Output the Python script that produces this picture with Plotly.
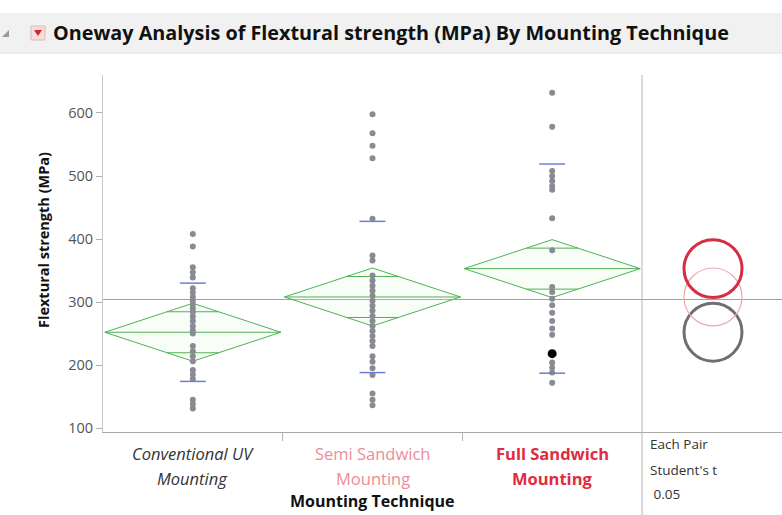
import math
import plotly.graph_objects as go

# ---------------- data ----------------
categories = ["Conventional UV Mounting", "Semi Sandwich Mounting", "Full Sandwich Mounting"]
cat_line1 = ["Conventional UV", "Semi Sandwich", "Full Sandwich"]
cat_line2 = ["Mounting", "Mounting", "Mounting"]

conventional = [408, 388, 355, 347, 339, 322, 315, 308, 302, 296, 290, 284, 277, 270,
                262, 255, 250, 230, 222, 214, 206, 192, 185, 178, 145, 138, 131]
semi = [598, 568, 548, 528, 432, 374, 366, 342, 334, 326, 318, 310, 302, 294, 286,
        278, 270, 262, 254, 246, 238, 230, 214, 205, 195, 184, 155, 145, 136]
full = [632, 578, 508, 500, 492, 484, 478, 433, 382, 324, 316, 305, 295, 283, 270,
        258, 248, 204, 196, 188, 172]
full_selected = [218]

group_means = [252, 308, 353]
group_sds = [78, 120, 166]
ci_half = [46, 46, 46]
circle_radius = [46, 46, 46]
grand_mean = 304
y_ticks = [100, 200, 300, 400, 500, 600]

# ---------------- layout geometry ----------------
W, H = 782, 515
L, R, T, B = 103, 0, 75, 83
PW = W - L - R
PH = H - T - B
SPLIT = 539 / PW
Y_RANGE = [93.7, 660.3]
PX_PER_UNIT = PH / (Y_RANGE[1] - Y_RANGE[0])
X2_RANGE = [0, (PW * (1 - SPLIT)) / PX_PER_UNIT]
CIRCLE_X = 71 / PX_PER_UNIT


def px(xp):
    return (xp - L) / PW


def py(yp):
    return (H - B - yp) / PH


FONT = "Open Sans"
GREEN = "#4fb253"
BLUE = "#6d7fd3"
DOT = "#8a8a92"

fig = go.Figure()
groups = [conventional, semi, full]
hw = 0.49
ow = hw * (1 - 1 / math.sqrt(2))
sdw = 0.072

for i, vals in enumerate(groups):
    m, c = group_means[i], ci_half[i]
    # diamond
    fig.add_trace(go.Scatter(
        x=[i - hw, i, i + hw, i, i - hw], y=[m, m + c, m, m - c, m],
        mode="lines", fill="toself", fillcolor="rgba(215,245,215,0.18)",
        line=dict(color=GREEN, width=1), hoverinfo="skip", showlegend=False))
    fig.add_trace(go.Scatter(
        x=[i - hw, i + hw], y=[m, m], mode="lines",
        line=dict(color=GREEN, width=1), hoverinfo="skip", showlegend=False))
    for s in (1, -1):
        yy = m + s * c / math.sqrt(2)
        fig.add_trace(go.Scatter(
            x=[i - ow, i + ow], y=[yy, yy], mode="lines",
            line=dict(color=GREEN, width=1), hoverinfo="skip", showlegend=False))

for i, vals in enumerate(groups):
    fig.add_trace(go.Scatter(
        x=[i] * len(vals), y=vals, mode="markers",
        marker=dict(color=DOT, size=6), name=categories[i], showlegend=False))

fig.add_trace(go.Scatter(
    x=[2] * len(full_selected), y=full_selected, mode="markers",
    marker=dict(color="black", size=9), showlegend=False))

for i in range(3):
    m, sd = group_means[i], group_sds[i]
    for yy in (m + sd, m - sd):
        fig.add_trace(go.Scatter(
            x=[i - sdw, i + sdw], y=[yy, yy], mode="lines",
            line=dict(color=BLUE, width=1.5), hoverinfo="skip", showlegend=False))

# dummy trace so xaxis2 exists
fig.add_trace(go.Scatter(x=[X2_RANGE[0]], y=[Y_RANGE[0]], xaxis="x2", yaxis="y",
                         mode="markers", marker=dict(opacity=0), hoverinfo="skip",
                         showlegend=False))

shapes = []
# title bar
shapes.append(dict(type="rect", xref="paper", yref="paper", x0=px(0), x1=px(W),
                   y0=py(53), y1=py(13), fillcolor="#f1f1f1", line=dict(width=0),
                   layer="below"))
shapes.append(dict(type="line", xref="paper", yref="paper", x0=px(0), x1=px(W),
                   y0=py(53), y1=py(53), line=dict(color="#e2e2e2", width=1)))
# disclosure + red triangle icons
shapes.append(dict(type="path", xref="paper", yref="paper",
                   path=f"M {px(2)},{py(37)} L {px(9)},{py(37)} L {px(9)},{py(30)} Z",
                   fillcolor="#9a9a9a", line=dict(width=0)))
shapes.append(dict(type="rect", xref="paper", yref="paper", x0=px(31), x1=px(45),
                   y0=py(40), y1=py(26), fillcolor="#f7dede",
                   line=dict(color="#e7b4b4", width=1)))
shapes.append(dict(type="path", xref="paper", yref="paper",
                   path=f"M {px(34)},{py(30)} L {px(42)},{py(30)} L {px(38)},{py(36)} Z",
                   fillcolor="#d8242c", line=dict(width=0)))
# grand mean line
shapes.append(dict(type="line", xref="paper", yref="y", x0=0, x1=1,
                   y0=grand_mean, y1=grand_mean, line=dict(color="#a0a0a0", width=1),
                   layer="below"))
# separator between main plot and comparison circles
shapes.append(dict(type="line", xref="paper", yref="paper", x0=SPLIT, x1=SPLIT,
                   y0=py(H), y1=1, line=dict(color="#b5b5b5", width=1)))
# comparison circles
circle_styles = [("#6f6f6f", 3), ("#f2a5ad", 1.2), ("#d62d43", 3)]
for i in range(3):
    col, wdt = circle_styles[i]
    r = circle_radius[i]
    shapes.append(dict(type="circle", xref="x2", yref="y",
                       x0=CIRCLE_X - r, x1=CIRCLE_X + r,
                       y0=group_means[i] - r, y1=group_means[i] + r,
                       line=dict(color=col, width=wdt)))

annotations = []
annotations.append(dict(text="<b>Oneway Analysis of Flextural strength (MPa) By Mounting Technique</b>",
                        xref="paper", yref="paper", x=px(51), y=py(33),
                        xanchor="left", yanchor="middle", showarrow=False,
                        font=dict(family=FONT, size=19.8, color="#111")))
annotations.append(dict(text="<b>Flextural strength (MPa)</b>", textangle=-90,
                        xref="paper", yref="paper", x=px(43), y=py(240),
                        xanchor="center", yanchor="middle", showarrow=False,
                        font=dict(family=FONT, size=14.5, color="#111")))
cat_styles = [("<i>{}</i>", "#333333"), ("{}", "#ee8c98"), ("<b>{}</b>", "#e22a40")]
for i in range(3):
    fmt, col = cat_styles[i]
    for txt, yp in ((cat_line1[i], 453), (cat_line2[i], 478)):
        annotations.append(dict(text=fmt.format(txt), xref="x", yref="paper",
                                x=i, y=py(yp), xanchor="center", yanchor="middle",
                                showarrow=False,
                                font=dict(family=FONT, size=16.5, color=col)))
annotations.append(dict(text="<b>Mounting Technique</b>", xref="x", yref="paper",
                        x=1, y=py(501), xanchor="center", yanchor="middle",
                        showarrow=False, font=dict(family=FONT, size=16, color="#111")))
for txt, yp in (("Each Pair", 444), ("Student's t", 470), (" 0.05", 494)):
    annotations.append(dict(text=txt, xref="paper", yref="paper", x=px(648), y=py(yp),
                            xanchor="left", yanchor="middle", showarrow=False,
                            font=dict(family=FONT, size=13.5, color="#333")))

fig.update_layout(
    width=W, height=H,
    margin=dict(l=L, r=R, t=T, b=B),
    paper_bgcolor="white", plot_bgcolor="white",
    showlegend=False,
    shapes=shapes, annotations=annotations,
    xaxis=dict(domain=[0, SPLIT], range=[-0.5, 2.5], showgrid=False, zeroline=False,
               tickvals=[0.5, 1.5], showticklabels=False, ticks="outside", ticklen=8,
               tickcolor="#b5b5b5", showline=True, linecolor="#a8a8a8", linewidth=1),
    xaxis2=dict(domain=[SPLIT, 1], range=X2_RANGE, anchor="y", showgrid=False,
                zeroline=False, showticklabels=False, ticks="", showline=True,
                linecolor="#a8a8a8", linewidth=1),
    yaxis=dict(range=Y_RANGE, tickvals=y_ticks, showgrid=False, zeroline=False,
               ticks="outside", ticklen=6, tickcolor="#b0b0b0", showline=True,
               linecolor="#c8c8c8", linewidth=1,
               tickfont=dict(family=FONT, size=14.5, color="#555")),
)

fig.write_html("out.html")
